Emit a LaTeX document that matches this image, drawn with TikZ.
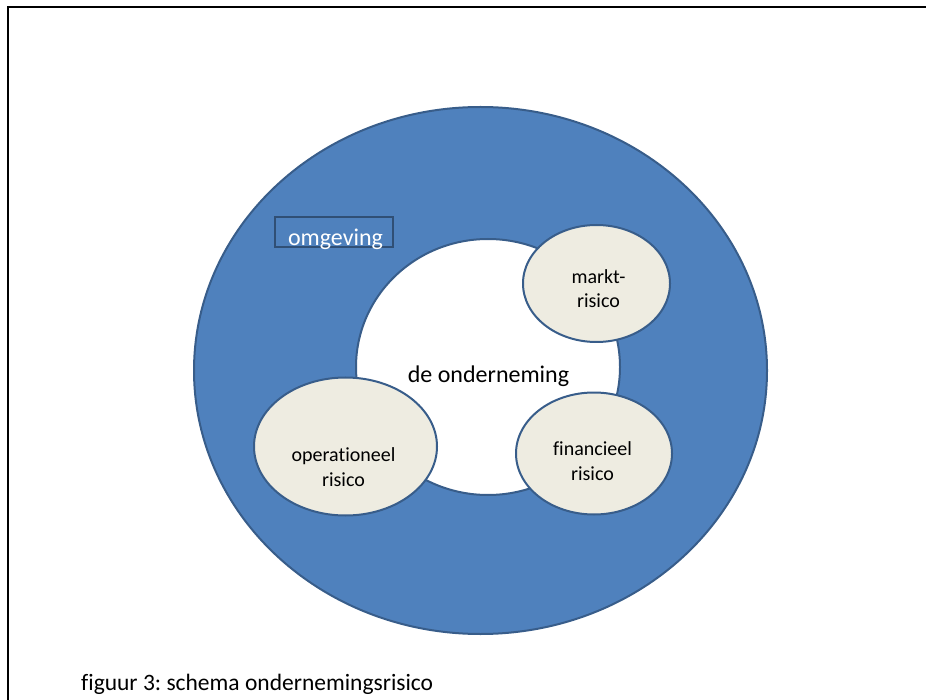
\documentclass[tikz,border=0pt]{standalone}
\usepackage{fontspec}
\setmainfont[Ligatures=NoCommon]{Carlito}
\usetikzlibrary{shapes.geometric}
\definecolor{ringblue}{HTML}{4F81BD}
\definecolor{edgeblue}{HTML}{385D8A}
\definecolor{riskfill}{HTML}{EEECE1}
\tikzset{
  ell/.style={ellipse, draw=edgeblue, line width=2pt, inner sep=0pt},
  risk/.style={ell, fill=riskfill},
  risktext/.style={anchor=base, inner sep=0pt, align=center, font=\fontsize{20}{24.5}\selectfont},
  bigtext/.style={anchor=base, inner sep=0pt, font=\fontsize{24}{28}\selectfont},
}
\frenchspacing
\begin{document}
\begin{tikzpicture}[x=1pt,y=-1pt]
\useasboundingbox (0,0) rectangle (926,700);
% frame
\coordinate (fbl) at (7.5,702);
\coordinate (ftl) at (7.5,7.5);
\coordinate (ftr) at (928,7.5);
\draw[line width=2pt, black] (fbl) -- (ftl) -- (ftr);
% outer ring
\node[ell, fill=ringblue, minimum width=573pt, minimum height=527pt] (outer) at (480.5,370.5) {};
% inner white area
\node[ell, fill=white, minimum width=264pt, minimum height=256pt] (inner) at (488,367) {};
% risk ellipses
\node[risk, minimum width=147pt, minimum height=117pt] (markt) at (596.5,283.5) {};
\node[risk, minimum width=183pt, minimum height=138pt] (oper) at (345.5,446.5) {};
\node[risk, minimum width=156pt, minimum height=122pt] (fin) at (594,453.5) {};
% omgeving box
\node[draw=edgeblue!85!black, line width=2pt, minimum width=118pt, minimum height=30pt, inner sep=0pt] (omgbox) at (334,232) {};
\node[bigtext, text=white] (omg) at (335.5,245.5) {omgeving};
% texts
\node[bigtext] (onder) at (488.5,382) {de onderneming};
\node[risktext] (markttxt) at (598.5,308) {markt-\\risico};
\node[risktext] (opertxt) at (343.5,486) {operationeel\\risico};
\node[risktext] (fintxt) at (592.5,480) {financieel\\risico};
% caption
\node[anchor=base west, inner sep=0pt, font=\fontsize{23.5}{28}\selectfont] (caption) at (81,690) {figuur 3: schema ondernemingsrisico};
\end{tikzpicture}
\end{document}
